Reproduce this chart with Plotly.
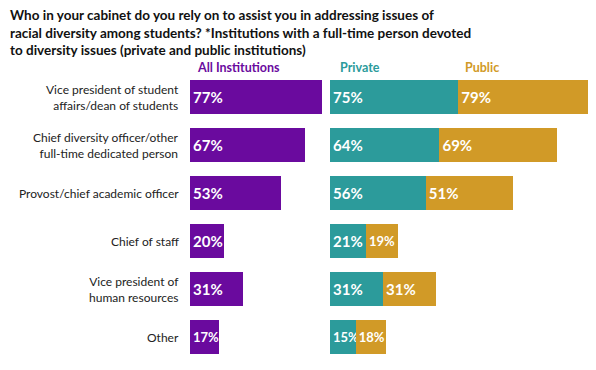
import plotly.graph_objects as go

title_text = ("Who in your cabinet do you rely on to assist you in addressing issues of<br>"
              "racial diversity among students? *Institutions with a full-time person devoted<br>"
              "to diversity issues (private and public institutions)")
categories = ["Vice president of student<br>affairs/dean of students",
              "Chief diversity officer/other<br>full-time dedicated person",
              "Provost/chief academic officer",
              "Chief of staff",
              "Vice president of<br>human resources",
              "Other"]
all_inst = [77, 67, 53, 20, 31, 17]
private = [75, 64, 56, 21, 31, 15]
public = [79, 69, 51, 19, 31, 18]
headers = ["All Institutions", "Private", "Public"]

PURPLE = "#6a0a9e"
TEAL = "#2c9b9b"
GOLD = "#d19a27"

# The page body adds an 8px offset; lay out the figure in page pixels minus that offset.
OFF = 8
W, H = 596 - OFF, 370 - OFF
PLOT_TOP, PLOT_BOT = 73 - OFF, 361 - OFF
idx = list(range(len(categories)))


def fx(px):
    return (px - OFF) / W


def fy(py):
    return (PLOT_BOT - (py - OFF)) / (PLOT_BOT - PLOT_TOP)


def pct(v):
    return [f"{x}%" for x in v]


def tfont(v):
    # slightly smaller labels in the narrowest bars so they stay inside
    return dict(family="Lato", color="white", weight="bold",
                size=[13 if x < 20 else 15 for x in v])


common = dict(orientation="h", textposition="inside", insidetextanchor="start",
              constraintext="none", textangle=0, hoverinfo="skip")

fig = go.Figure()
fig.add_trace(go.Bar(x=all_inst, y=idx, xaxis="x", yaxis="y", text=pct(all_inst),
                     textfont=tfont(all_inst),
                     marker=dict(color=PURPLE, line=dict(width=0)), **common))
fig.add_trace(go.Bar(x=private, y=idx, xaxis="x2", yaxis="y2", text=pct(private),
                     textfont=tfont(private),
                     marker=dict(color=TEAL, line=dict(width=0)), **common))
fig.add_trace(go.Bar(x=public, y=idx, xaxis="x2", yaxis="y2", text=pct(public),
                     textfont=tfont(public),
                     marker=dict(color=GOLD, line=dict(width=0)), **common))

ann = [dict(x=fx(OFF), y=fy(5), xref="paper", yref="paper", text=title_text,
            showarrow=False, xanchor="left", yanchor="top", align="left",
            font=dict(family="Lato", size=13.5, color="#111111", weight="bold"))]
for i, c in enumerate(categories):
    ann.append(dict(x=fx(181), y=i, xref="paper", yref="y", text=c, showarrow=False,
                    xanchor="right", yanchor="middle", align="right",
                    font=dict(family="Lato", size=12, color="#222222")))
hdr_pos = [(195, PURPLE), (338, TEAL), (463, GOLD)]
for t, (px, col) in zip(headers, hdr_pos):
    ann.append(dict(x=fx(px), y=fy(67), xref="paper", yref="paper", text=t,
                    showarrow=False, xanchor="left", yanchor="middle",
                    font=dict(family="Lato", size=12.5, color=col, weight="bold")))

fig.update_layout(
    width=W, height=H, margin=dict(l=0, r=0, t=PLOT_TOP, b=H - PLOT_BOT),
    paper_bgcolor="white", plot_bgcolor="white", showlegend=False,
    barmode="stack", bargap=0.29,
    xaxis=dict(domain=[fx(190), fx(327)], range=[0, 80], visible=False, fixedrange=True),
    xaxis2=dict(domain=[fx(330), fx(595)], range=[0, 155], visible=False, fixedrange=True),
    yaxis=dict(range=[5.5, -0.5], visible=False, anchor="x"),
    yaxis2=dict(range=[5.5, -0.5], visible=False, anchor="x2"),
    annotations=ann,
)
fig.write_html("out.html")
